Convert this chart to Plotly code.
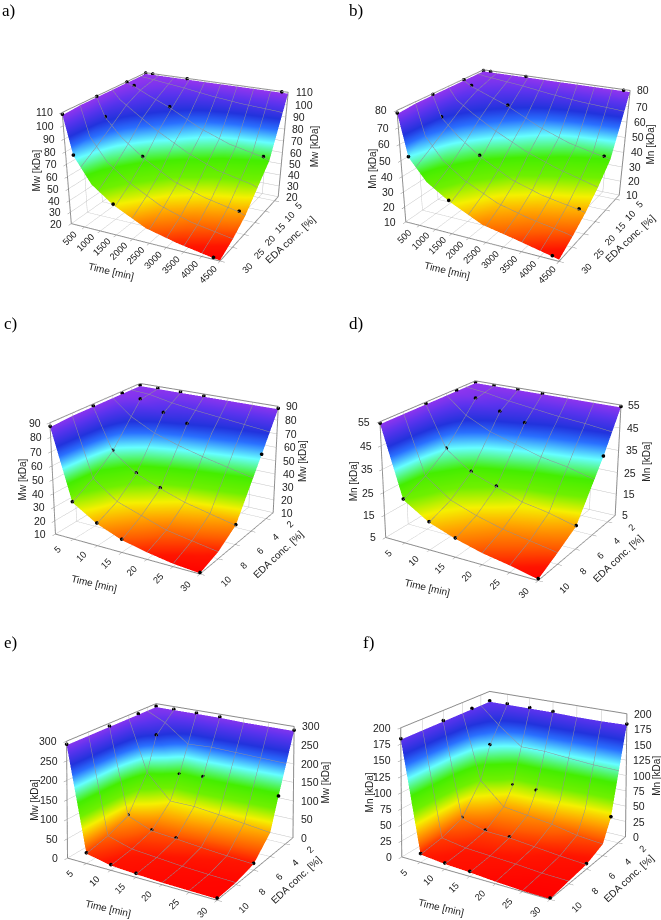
import math
import plotly.graph_objects as go

# ---- data ----
panel_letters = ["a)", "b)", "c)", "d)", "e)", "f)"]
z_names = ["Mw [kDa]", "Mn [kDa]", "Mw [kDa]", "Mn [kDa]", "Mw [kDa]", "Mn [kDa]"]

time_long = [60, 300, 800, 1440, 2400, 3300, 4320, 4500]
eda_long = [3, 10, 15, 20, 25, 30]
time_short = [1, 5, 10, 15, 20, 25, 30]
eda_short_cd = [1, 3, 6, 8, 10]
eda_short_ef = [1, 3, 4, 6, 8, 10]

z_a = [[109, 109, 109, 109, 109, 109, 109, 109],
       [109, 107, 101, 94, 81, 72, 66, 64],
       [109, 102, 93, 82, 68, 58, 52, 50],
       [109, 94, 80, 67, 52, 44, 38, 36],
       [109, 86, 68, 55, 41, 33, 28, 27],
       [108, 78, 58, 45, 32, 26, 21, 20.5]]
z_b = [[79, 79, 79, 79, 79, 79, 79, 79],
       [79, 76, 72, 67, 57, 50, 45, 44],
       [79, 72, 65, 57, 47, 40, 34, 33],
       [79, 66, 56, 46, 35, 29, 25, 24],
       [79, 60, 47, 37, 27, 22, 18, 17],
       [78, 53, 40, 31, 21, 17, 12, 11]]
z_c = [[88, 88, 88, 88, 88, 88, 88],
       [88, 86, 79, 74, 70, 66, 62],
       [88, 58, 45, 38, 32, 28, 24],
       [88, 46, 33, 27, 21, 18, 15],
       [87, 37, 26, 19, 15, 12, 10.5]]
z_d = [[54, 54, 54, 54, 54, 54, 54],
       [54, 52, 48, 45, 42, 40, 37],
       [54, 36, 28, 24, 20, 18, 15],
       [54, 29, 21, 17, 14, 12, 10],
       [54, 24, 17, 13, 10, 8, 5.5]]
z_e = [[290, 290, 290, 290, 288, 288, 288],
       [290, 240, 143, 150, 148, 144, 140],
       [290, 150, 85, 85, 78, 70, 62],
       [290, 60, 35, 30, 24, 19, 15],
       [290, 38, 20, 15, 10, 7, 5],
       [290, 25, 12, 8, 5, 4, 3]]
z_f = [[182, 182, 182, 182, 181, 181, 182],
       [182, 126, 66, 66, 60, 54, 50],
       [182, 75, 40, 35, 30, 22, 18],
       [182, 30, 19, 18, 14, 10, 7],
       [182, 18, 12, 10, 8, 5, 4],
       [182, 12, 8, 6, 3, 1, 0.5]]

dots_long_t = [60, 300, 1440, 4320]
dots_long_e = [3, 10, 20, 30]
dots_short_t = [1, 5, 10, 15, 30]
dots_short_e = [1, 3, 6, 10]

time_ticks_long = [500, 1000, 1500, 2000, 2500, 3000, 3500, 4000, 4500]
eda_ticks_long = [5, 10, 15, 20, 25, 30]
time_ticks_short = [5, 10, 15, 20, 25, 30]
eda_ticks_short = [2, 4, 6, 8, 10]
z_ticks = [list(range(20, 111, 10)), list(range(10, 81, 10)), list(range(10, 91, 10)),
           list(range(5, 56, 10)), list(range(0, 301, 50)), list(range(0, 201, 25))]
z_ranges = [[20, 110], [10, 80], [10, 90], [5, 55], [0, 300], [0, 200]]

panels = [
    (time_long, eda_long, z_a, dots_long_t, dots_long_e, time_ticks_long, eda_ticks_long, 500, 5),
    (time_long, eda_long, z_b, dots_long_t, dots_long_e, time_ticks_long, eda_ticks_long, 500, 5),
    (time_short, eda_short_cd, z_c, dots_short_t, dots_short_e, time_ticks_short, eda_ticks_short, 5, 2),
    (time_short, eda_short_cd, z_d, dots_short_t, dots_short_e, time_ticks_short, eda_ticks_short, 5, 2),
    (time_short, eda_short_ef, z_e, dots_short_t, dots_short_e, time_ticks_short, eda_ticks_short, 5, 2),
    (time_short, eda_short_ef, z_f, dots_short_t, dots_short_e, time_ticks_short, eda_ticks_short, 5, 2),
]

# layout geometry
W, H = 661, 920
dom_rows = [(0, 556), (100, 840), (120, 920)]   # pixel top/bottom of the scene domains per row
row_dist = [4.2, 5.6, 6.04]
row_elev = [21.3, 21.3, 20.0]
row_azim = [26.3, 30.8, 30.8]
box_origin = [(178, 158), (515, 156), (167, 470), (503, 471), (184, 791), (517, 784)]
panel_scale = [1.0, 1.03, 1.03, 1.086, 1.005, 1.0]
z_aspect = [0.70, 0.68, 0.71, 0.70, 0.70, 0.78]
z_left_title = [-30, -28, -30, -29, -32, -31]
z_right_title = [32, 27, 28, 29, 32, 31]
letter_pos = [(0, 10), (347, 10), (2, 323), (347, 323), (2, 642), (361, 642)]

rainbow = [[0.0, "#ff0000"], [0.05, "#ff1500"], [0.12, "#ff6000"], [0.2, "#ffa500"], [0.28, "#f5f000"],
           [0.38, "#70f000"], [0.49, "#44ee00"], [0.62, "#66ffff"], [0.72, "#2a70ff"],
           [0.8, "#2233dd"], [0.9, "#5a33ee"], [1.0, "#9a35ee"]]

fig = go.Figure()
layout = dict(width=W, height=H, margin=dict(l=0, r=0, t=0, b=0),
              paper_bgcolor="white", showlegend=False, annotations=[])

FONT = "Liberation Sans"
GRID = "#c4c4c4"
AX = "#8a8a8a"
TXT = dict(family=FONT, size=10.5, color="#222")
TTL = dict(family=FONT, size=10, color="#222")


def camera_for(cx, cy, tx, ty, dom_h, dist, elev_deg, azim_deg):
    elev, azim = math.radians(elev_deg), math.radians(azim_deg)
    scale = dom_h / (0.828 * dist)
    dx, dy = (tx - cx) / scale, (ty - cy) / scale
    right = (-math.sin(azim), math.cos(azim), 0.0)
    up = (-math.sin(elev) * math.cos(azim), -math.sin(elev) * math.sin(azim), math.cos(elev))
    shift = [-dx * right[k] + dy * up[k] for k in range(3)]
    base = (dist * math.cos(elev) * math.cos(azim), dist * math.cos(elev) * math.sin(azim), dist * math.sin(elev))
    return dict(eye=dict(x=base[0], y=base[1], z=base[2]),
                center=dict(x=shift[0], y=shift[1], z=shift[2]),
                up=dict(x=0, y=0, z=1), projection=dict(type="perspective"))


for i, p in enumerate(panels):
    T, E, Z, dt, de, tt, et, ts, es = p
    sid = "scene" if i == 0 else f"scene{i+1}"
    tr = [T[0], T[-1]]
    er = [E[0], E[-1]]
    zr = z_ranges[i]
    Z_by_time = [list(col) for col in zip(*Z)]
    fig.add_trace(go.Surface(
        x=E, y=T, z=Z_by_time, scene=sid, showscale=False,
        colorscale=rainbow, cmin=zr[0], cmax=zr[1],
        lighting=dict(ambient=1, diffuse=0, specular=0, roughness=1, fresnel=0),
        contours=dict(
            x=dict(show=True, start=et[0], end=et[-1], size=es, color="#8f8f9a", width=1),
            y=dict(show=True, start=tt[0], end=tt[-1], size=ts, color="#8f8f9a", width=1),
            z=dict(show=False)),
        hoverinfo="skip"))
    px, py, pz = [], [], []
    lift = (zr[1] - zr[0]) * 0.008
    for e in de:
        for t in dt:
            px.append(e)
            py.append(t)
            pz.append(Z[E.index(e)][T.index(t)] + lift)
    fig.add_trace(go.Scatter3d(x=px, y=py, z=pz, mode="markers", scene=sid,
                               marker=dict(size=2.1, color="black", line=dict(width=0)),
                               hoverinfo="skip"))
    common = dict(showbackground=False, showgrid=True, gridcolor=GRID, gridwidth=1,
                  showline=True, linecolor=AX, linewidth=2, zeroline=False, showspikes=False,
                  ticks="outside", tickcolor=AX, ticklen=4, tickwidth=1,
                  tickfont=TXT, mirror=True)
    col = i % 2
    row = i // 2
    top, bot = dom_rows[row]
    x0, x1 = col * 0.5, col * 0.5 + 0.5
    cx, cy = (x0 + x1) * W / 2, (top + bot) / 2
    notes = []
    for v in z_ticks[i]:
        notes.append(dict(x=er[0], y=tr[1], z=v, text=str(v), showarrow=False, xanchor="left", xshift=6, font=TXT))
        notes.append(dict(x=er[1], y=tr[0], z=v, text=str(v), showarrow=False, xanchor="right", xshift=-7, font=TXT))
    zmid = sum(zr) / 2
    notes.append(dict(x=er[0], y=tr[1], z=zmid, text=z_names[i], showarrow=False, textangle=-90,
                      xshift=z_right_title[i], font=TTL))
    notes.append(dict(x=er[1], y=tr[0], z=zmid, text=z_names[i], showarrow=False, textangle=-90,
                      xshift=z_left_title[i], font=TTL))
    notes.append(dict(x=er[1], y=sum(tr) / 2, z=zr[0], text="Time [min]", showarrow=False, textangle=13,
                      xshift=-30, yshift=-30, font=TTL))
    notes.append(dict(x=sum(er) / 2, y=tr[1], z=zr[0], text="EDA conc. [%]", showarrow=False, textangle=-43,
                      xshift=39, yshift=-13, font=TTL))
    s = panel_scale[i]
    scene = dict(
        domain=dict(x=[x0, x1], y=[1 - bot / H, 1 - top / H]),
        bgcolor="rgba(0,0,0,0)",
        aspectmode="manual", aspectratio=dict(x=0.97 * s, y=1.0 * s, z=z_aspect[i] * s),
        camera=camera_for(cx, cy, box_origin[i][0], box_origin[i][1], bot - top,
                          row_dist[row], row_elev[row], row_azim[row]),
        xaxis=dict(title=dict(text=""), range=er, tickvals=et, tickangle=-45, **common),
        yaxis=dict(title=dict(text=""), range=tr, tickvals=tt, tickangle=-45, **common),
        zaxis=dict(title=dict(text=""), range=zr, tickvals=z_ticks[i], showticklabels=False, **common),
        annotations=notes,
    )
    layout[sid] = scene
    layout["annotations"].append(dict(
        x=letter_pos[i][0] / W, y=1 - letter_pos[i][1] / H, xref="paper", yref="paper",
        xanchor="left", yanchor="middle", text=panel_letters[i], showarrow=False,
        font=dict(family="Liberation Serif", size=17, color="black")))

fig.update_layout(**layout)
fig.write_html("out.html", config=dict(displayModeBar=False),
               post_script="document.body.style.margin='0';")
